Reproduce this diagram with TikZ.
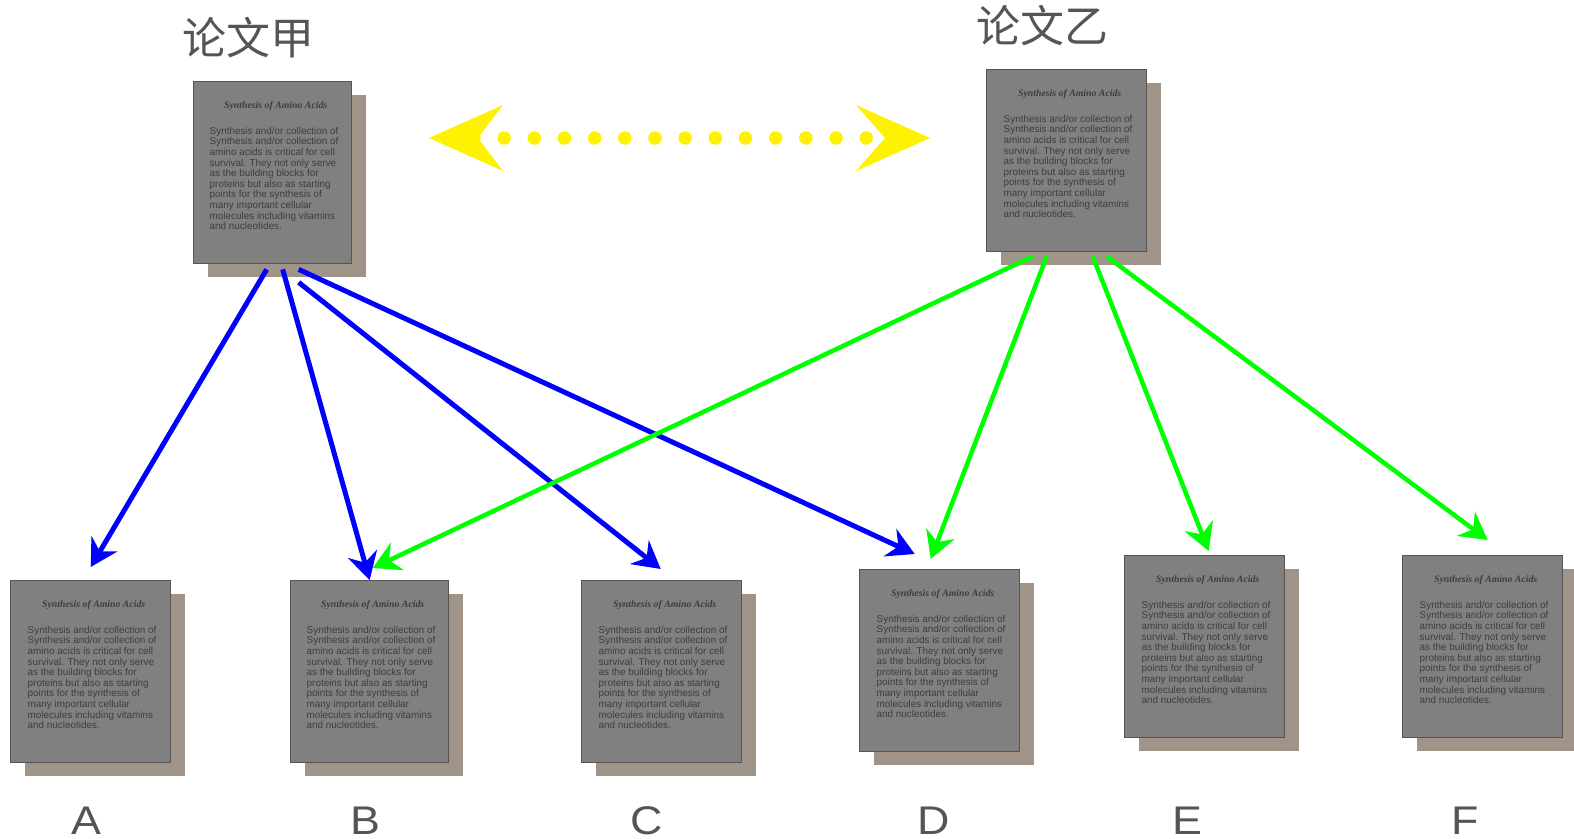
\documentclass[tikz,border=0pt]{standalone}
\usepackage{fontspec}
\setmainfont{Liberation Sans}
\newfontfamily\cjkfont{Noto Sans CJK SC}
\newfontfamily\serifont{Liberation Serif}
\usetikzlibrary{arrows.meta,shadows}
\definecolor{papergray}{HTML}{808080}
\definecolor{paperedge}{HTML}{555555}
\definecolor{papershade}{HTML}{A09488}
\definecolor{papertext}{HTML}{3E3E3E}
\definecolor{labelgray}{HTML}{555555}
\definecolor{citeblue}{HTML}{0000FF}
\definecolor{citegreen}{HTML}{00FF00}
\newcommand{\paperbody}{%
  \hspace*{6pt}\parbox[t][142pt][t]{132pt}{%
    \centering{\serifont\bfseries\itshape\fontsize{9.8}{10}\selectfont Synthesis of Amino Acids\par}%
    \vspace{15pt}%
    \raggedright\fontsize{9.9}{10.6}\selectfont
    Synthesis and/or collection of\\
    Synthesis and/or collection of\\
    amino acids is critical for cell\\
    survival. They not only serve\\
    as the building blocks for\\
    proteins but also as starting\\
    points for the synthesis of\\
    many important cellular\\
    molecules including vitamins\\
    and nucleotides.%
  }%
}
\begin{document}
\begin{tikzpicture}[x=1pt,y=-1pt]

    \tikzset{
      paper/.style={
        draw=paperedge,
        fill=papergray,
        line width=1.4pt,
        anchor=north west,
        inner sep=0pt,
        minimum width=160pt,
        minimum height=182pt,
        text=papertext,
        copy shadow={shadow xshift=14.5pt,shadow yshift=-13.5pt,fill=papershade,draw=none},
      },
      cjklabel/.style={
        text=labelgray,
        font=\cjkfont\fontsize{44}{44}\selectfont,
      },
      letterlabel/.style={
        text=labelgray,
        font=\fontsize{40}{40}\selectfont,
        transform shape,
        xscale=1.12,
      },
      bluearrow/.style={
        draw=citeblue,
        line width=5pt,
        -{Stealth[length=27pt,width=30pt,inset=9pt]},
      },
      greenarrow/.style={
        draw=citegreen,
        line width=4.5pt,
        -{Stealth[length=27pt,width=30pt,inset=9pt]},
      },
      yellowarrow/.style={
        draw=yellow,
        line width=13.5pt,
        line cap=round,
        dash pattern=on 0pt off 30.17pt,
      },
    }
    \useasboundingbox (0,0) rectangle (1574,838);

    \node[cjklabel] (titlejia) at (248,38) {论文甲};
    \node[cjklabel] (titleyi) at (1042,26) {论文乙};

    \node[paper,minimum width=158pt] (jia) at (193,81) {\paperbody};
    \node[paper] (yi) at (986,69) {\paperbody};
    \node[paper] (docA) at (10,580) {\paperbody};
    \node[paper,minimum width=158pt] (docB) at (290,580) {\paperbody};
    \node[paper] (docC) at (581,580) {\paperbody};
    \node[paper] (docD) at (859,569) {\paperbody};
    \node[paper] (docE) at (1124,555) {\paperbody};
    \node[paper] (docF) at (1402,555) {\paperbody};

    \node[letterlabel] (labelA) at (86,821) {A};
    \node[letterlabel] (labelB) at (365,821) {B};
    \node[letterlabel] (labelC) at (647,821) {C};
    \node[letterlabel] (labelD) at (934,821) {D};
    \node[letterlabel] (labelE) at (1187,821) {E};
    \node[letterlabel] (labelF) at (1465,821) {F};

    % links between the two papers
    \coordinate (likeL) at (474,138);
    \coordinate (likeR) at (867,138);
    \coordinate (tipL) at (429,138);
    \coordinate (tipR) at (930,138);
    \draw[yellowarrow] (likeL) -- (likeR);
    \fill[yellow] (tipL) -- (503,105) -- (478,138) -- (503,171) -- cycle;
    \fill[yellow] (tipR) -- (856,105) -- (885,138) -- (856,171) -- cycle;

    % references of the first paper
    \draw[bluearrow] ([shift={(-6,5)}]jia.south) -- ([shift={(0,-13)}]docA.north);
    \draw[bluearrow] ([shift={(10,5)}]jia.south) -- ([shift={(0,0)}]docB.north);
    \draw[bluearrow] ([shift={(26,18)}]jia.south) -- ([shift={(-1,-11)}]docC.north);
    \draw[bluearrow] ([shift={(26,5)}]jia.south) -- ([shift={(-25,-15)}]docD.north);

    % references of the second paper
    \draw[greenarrow] ([shift={(-34,4)}]yi.south) -- ([shift={(3,-12)}]docB.north);
    \draw[greenarrow] ([shift={(-20,4)}]yi.south) -- ([shift={(-9,-10)}]docD.north);
    \draw[greenarrow] ([shift={(26,4)}]yi.south) -- ([shift={(4,-4)}]docE.north);
    \draw[greenarrow] ([shift={(40,4)}]yi.south) -- ([shift={(5,-15)}]docF.north);

\end{tikzpicture}
\end{document}
